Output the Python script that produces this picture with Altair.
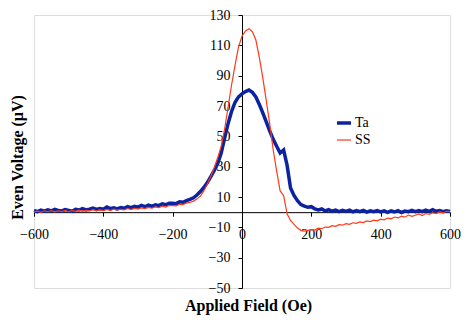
import altair as alt
import pandas as pd

# Applied field grid (Oe)
field = list(range(-600, 601, 10))

# Even voltage (uV)
ta = [
    1.0, 0.4, 1.3, 0.7, 1.6, 0.9, 1.8, 1.1, 0.8, 1.7,
    1.2, 0.6, 1.9, 1.4, 2.3, 1.5, 2.0, 2.7, 1.8, 2.4,
    2.0, 3.4, 2.3, 2.9, 2.2, 3.1, 2.6, 3.7, 3.0, 3.9,
    3.3, 4.5, 3.6, 4.7, 3.9, 4.9, 4.3, 5.5, 4.9, 5.9,
    5.9, 5.6, 6.8, 6.5, 7.6, 8.4, 9.5, 11.3, 13.6, 16.3,
    19.5, 23.5, 27.5, 32.0, 39.0, 49.0, 58.5, 66.5, 72.5, 76.0,
    78.0, 79.5, 80.5, 79.0, 76.0, 71.0, 65.5, 59.5, 53.5, 48.0,
    43.5, 39.0, 41.0, 31.0, 16.0, 11.0, 7.5, 5.0, 4.0, 3.2,
    3.6, 2.2, 1.5, 2.1, 0.8, 1.6, 0.6, 1.4, 0.4, 1.2,
    0.5, 1.3, 0.2, 1.1, 0.4, 1.2, 0.0, 0.9, 0.3, 1.1,
    0.2, 0.9, -0.1, 0.8, 0.1, 1.0, -0.2, 0.7, 0.3, 1.2,
    0.4, 1.1, 0.3, 1.3, 0.5, 1.6, 0.6, 1.0, 0.3, 0.9,
    0.5,
]
ss = [
    0.2, 0.7, -0.1, 0.9, 0.3, 1.0, 0.2, 0.8, 0.4, 1.1,
    0.3, 1.0, 0.5, 1.3, 0.6, 1.2, 0.8, 1.6, 0.9, 1.5,
    1.0, 1.8, 1.1, 2.0, 1.3, 1.9, 1.5, 2.4, 1.7, 2.5,
    2.0, 2.8, 2.3, 3.1, 2.6, 3.5, 3.0, 3.9, 3.4, 4.4,
    4.3, 4.2, 5.2, 5.0, 6.0, 6.4, 7.3, 8.6, 10.6, 14.0,
    18.5, 23.5, 29.5, 36.0, 43.5, 55.0, 69.5, 84.0, 97.0, 109.0,
    116.0, 119.5, 121.0, 119.0, 113.5, 102.0, 88.5, 73.5, 58.0, 41.0,
    27.0, 14.0, 11.0, -1.0, -5.5, -8.0, -10.5, -12.0, -12.5, -12.0,
    -11.5, -11.8, -10.6, -10.9, -9.8, -10.0, -8.9, -9.3, -8.2, -8.6,
    -7.6, -8.0, -7.0, -7.4, -6.4, -6.9, -5.8, -6.2, -5.3, -5.7,
    -4.6, -5.1, -3.9, -4.4, -3.2, -3.8, -2.6, -3.3, -1.9, -2.8,
    -2.0, -1.2, -2.2, -0.9, -1.4, -0.4, -0.9, 0.2, -0.5, 0.6,
    0.3,
]
series_names = ["Ta", "SS"]
series_colors = ["#0B23A0", "#FF3A1A"]
series_widths = [3.5, 1.2]

x_ticks = [-600, -400, -200, 0, 200, 400, 600]
y_ticks = [-50, -30, -10, 10, 30, 50, 70, 90, 110, 130]

df = pd.DataFrame({
    "field": field * 2,
    "voltage": ta + ss,
    "series": ["Ta"] * len(field) + ["SS"] * len(field),
})

W, H = 416, 273
XMIN, XMAX = -600, 600
YMIN, YMAX = -50, 130
x0 = W * (0 - XMIN) / (XMAX - XMIN)   # y-axis position inside plot
y0 = H * (YMAX - 0) / (YMAX - YMIN)   # x-axis position inside plot

FONT = "Liberation Serif"

common_axis = dict(
    grid=False, labelFont=FONT, titleFont=FONT, labelFontSize=14,
    labelColor="black", titleColor="black", domainColor="black",
    tickColor="black", domainWidth=1, tickWidth=1, tickSize=4,
    labelFlush=False, labelOverlap=False, labelBound=False,
    titleFontSize=16, titleFontWeight="bold", titleBaseline="alphabetic",
    titleAlign="center",
)

x_enc = alt.X(
    "field:Q",
    scale=alt.Scale(domain=[XMIN, XMAX], nice=False, zero=False),
    axis=alt.Axis(
        values=x_ticks, offset=-(H - y0),
        title="Applied Field (Oe)", titleX=214, titleY=98,
        labelPadding=11, **common_axis,
    ),
)
y_enc = alt.Y(
    "voltage:Q",
    scale=alt.Scale(domain=[YMIN, YMAX], nice=False, zero=False),
    axis=alt.Axis(
        values=y_ticks, offset=-x0,
        title="Even Voltage (μV)", titleX=-220, titleY=142, titleAngle=-90,
        labelPadding=8, **common_axis,
    ),
)
legend = alt.Legend(
    title=None, orient="none", legendX=301, legendY=99,
    symbolType="stroke", symbolSize=196, labelFontSize=14,
    labelFont=FONT, rowPadding=2, labelOffset=2, labelColor="black",
)
color = alt.Color("series:N", scale=alt.Scale(domain=series_names, range=series_colors), legend=legend)
width = alt.StrokeWidth("series:N", scale=alt.Scale(domain=series_names, range=series_widths), legend=legend)

base = alt.Chart(df)
ta_line = base.transform_filter(alt.datum.series == "Ta").mark_line().encode(
    x=x_enc, y=y_enc, color=color, strokeWidth=width)
ss_line = base.transform_filter(alt.datum.series == "SS").mark_line().encode(
    x=x_enc, y=y_enc, color=color, strokeWidth=width)

chart = alt.layer(ta_line, ss_line).properties(
    width=W, height=H, autosize="none",
    padding={"left": 26, "top": 7, "right": 17, "bottom": 30},
).configure_view(stroke=None).configure(background="white")

chart.save("out.html", embed_options={"renderer": "svg", "actions": False})
